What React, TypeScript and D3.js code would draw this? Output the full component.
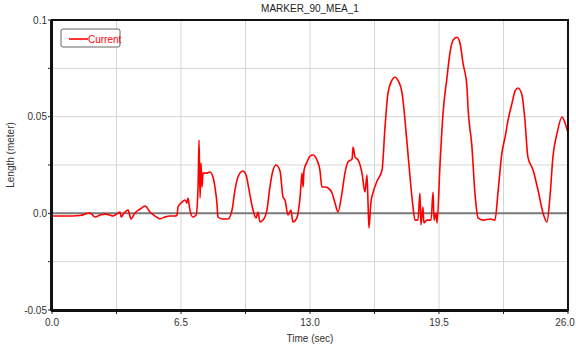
import { useEffect, useRef } from 'react';
import * as d3 from 'd3';

// Sampled trace of MARKER_90_MEA_1 (time in sec, length in meter)
const timeSec = [
  0.0, 0.66, 1.41, 1.91, 2.17, 2.42, 2.67, 2.92, 3.07, 3.22, 3.43, 3.48, 3.63, 3.83, 3.98,
  4.18, 4.43, 4.69, 4.94, 5.19, 5.44, 5.69, 5.95, 6.2, 6.3, 6.35, 6.55, 6.7, 6.8, 6.85,
  6.95, 7.1, 7.26, 7.36, 7.41, 7.46, 7.51, 7.56, 7.61, 7.81, 7.96, 8.11, 8.21, 8.31, 8.36,
  8.57, 8.87, 9.07, 9.22, 9.37, 9.62, 9.78, 9.93, 10.13, 10.28, 10.38, 10.48, 10.63, 10.83, 10.98,
  11.14, 11.29, 11.49, 11.64, 11.74, 11.89, 12.04, 12.14, 12.34, 12.5, 12.6, 12.65, 12.7, 12.85, 13.0,
  13.15, 13.35, 13.5, 13.6, 13.76, 13.91, 14.11, 14.26, 14.41, 14.61, 14.76, 14.91, 15.12, 15.17, 15.27,
  15.42, 15.62, 15.77, 15.87, 15.92, 15.97, 16.07, 16.17, 16.38, 16.63, 16.78, 16.93, 17.13, 17.28, 17.43,
  17.64, 17.89, 18.04, 18.19, 18.29, 18.44, 18.54, 18.59, 18.69, 18.74, 18.89, 19.1, 19.2, 19.25, 19.35,
  19.4, 19.55, 19.7, 19.9, 20.05, 20.21, 20.41, 20.56, 20.71, 20.91, 20.96, 21.16, 21.31, 21.47, 21.72,
  22.07, 22.32, 22.47, 22.67, 22.83, 22.98, 23.18, 23.33, 23.48, 23.68, 23.83, 23.98, 24.24, 24.49, 24.74,
  24.94, 25.09, 25.24, 25.45, 25.7, 25.85, 26.0,
];

const lengthM = [
  -0.0014, -0.0014, -0.0011, 0.0002, -0.0019, -0.0009, -0.0004, -0.0009, -0.0014, -0.0006, 0.0007, -0.0019, 0.0002, 0.0017, -0.0029,
  0.0002, 0.0021, 0.0038, 0.0007, -0.0014, -0.0029, -0.0019, -0.0014, -0.0014, -0.0009, 0.0033, 0.0058, 0.0069, 0.0053, 0.0079,
  0.0017, -0.0019, -0.0009, 0.0136, 0.0379, 0.0079, 0.026, 0.0136, 0.0208, 0.0208, 0.0214, 0.0188, 0.0136, 0.0053, -0.0019,
  -0.0029, -0.0029, 0.0017, 0.012, 0.0188, 0.0219, 0.0198, 0.012, 0.0017, -0.0024, 0.0007, -0.0045, -0.0035, 0.0017, 0.0136,
  0.0224, 0.025, 0.0219, 0.0084, 0.0069, -0.0009, 0.0017, -0.0045, -0.0024, 0.0084, 0.0208, 0.0136, 0.0224, 0.0265, 0.0296,
  0.0302, 0.0276, 0.0224, 0.0136, 0.0136, 0.0131, 0.0105, 0.0053, 0.0007, 0.0105, 0.0208, 0.0265, 0.0281, 0.0343, 0.0291,
  0.0276, 0.0208, 0.011, 0.0198, 0.0069, -0.0076, 0.0058, 0.0105, 0.0167, 0.0224, 0.0446, 0.0622, 0.0689, 0.0705, 0.0689,
  0.0622, 0.0363, 0.0188, 0.0033, -0.0035, -0.0035, 0.0105, -0.006, 0.0033, -0.005, -0.0035, -0.0035, 0.011, -0.0035, 0.0002,
  -0.005, 0.025, 0.0513, 0.07, 0.0829, 0.0896, 0.0911, 0.088, 0.0777, 0.0653, 0.055, 0.0344, 0.0106, -0.0024, -0.0035,
  -0.0029, -0.0035, 0.0106, 0.0313, 0.0394, 0.0482, 0.057, 0.0632, 0.0648, 0.0612, 0.0482, 0.0291, 0.0224, 0.012, 0.0002,
  -0.0045, 0.0084, 0.0291, 0.0415, 0.0498, 0.0467, 0.0415,
];

const xTickLabels = ['0.0', '6.5', '13.0', '19.5', '26.0'];
const yTickLabels = ['0.1', '0.05', '0.0', '-0.05'];

export default function App() {
  const svgRef = useRef<SVGSVGElement>(null);

  useEffect(() => {
    document.body.style.margin = '0';
    if (!svgRef.current) return;

    const svg = d3.select(svgRef.current);
    svg.selectAll('*').remove();

    const width = 576;
    const height = 350;
    const margin = { top: 20, right: 8, bottom: 40, left: 52 };
    const w = width - margin.left - margin.right;
    const h = height - margin.top - margin.bottom;
    const font = 'Liberation Sans Narrow, Liberation Sans, Arial, sans-serif';

    const data = timeSec.map((t, i) => ({ t, v: lengthM[i] }));

    const x = d3.scaleLinear().domain([0, 26]).range([0, w]);
    const y = d3.scaleLinear().domain([-0.05, 0.1]).range([h, 0]);

    const g = svg.append('g')
      .attr('transform', `translate(${margin.left},${margin.top})`);

    // grid
    const xGrid = d3.range(0, 9).map(i => i * 3.25);
    const yGrid = d3.range(0, 7).map(i => -0.05 + i * 0.025);

    g.selectAll('.xgrid')
      .data(xGrid)
      .enter()
      .append('line')
      .attr('x1', d => x(d))
      .attr('x2', d => x(d))
      .attr('y1', 0)
      .attr('y2', h)
      .attr('stroke', '#d6d6d6')
      .attr('stroke-width', 1);

    g.selectAll('.ygrid')
      .data(yGrid)
      .enter()
      .append('line')
      .attr('x1', 0)
      .attr('x2', w)
      .attr('y1', d => y(d))
      .attr('y2', d => y(d))
      .attr('stroke', '#d6d6d6')
      .attr('stroke-width', 1);

    // zero line
    g.append('line')
      .attr('x1', 0)
      .attr('x2', w)
      .attr('y1', y(0))
      .attr('y2', y(0))
      .attr('stroke', '#7a7a7a')
      .attr('stroke-width', 2);

    // ticks
    g.selectAll('.ytick')
      .data(yGrid)
      .enter()
      .append('line')
      .attr('x1', -4)
      .attr('x2', 0)
      .attr('y1', d => y(d))
      .attr('y2', d => y(d))
      .attr('stroke', '#222');

    g.selectAll('.xtick')
      .data(xGrid)
      .enter()
      .append('line')
      .attr('x1', d => x(d))
      .attr('x2', d => x(d))
      .attr('y1', h)
      .attr('y2', h + 4)
      .attr('stroke', '#222');

    // series
    const line = d3.line<{ t: number; v: number }>()
      .x(d => x(d.t))
      .y(d => y(d.v))
      .curve(d3.curveMonotoneX);

    g.append('path')
      .datum(data)
      .attr('fill', 'none')
      .attr('stroke', '#ff0000')
      .attr('stroke-width', 1.6)
      .attr('stroke-linejoin', 'round')
      .attr('d', line);

    // frame
    g.append('rect')
      .attr('x', 0)
      .attr('y', 0)
      .attr('width', w)
      .attr('height', h)
      .attr('fill', 'none')
      .attr('stroke', '#111')
      .attr('stroke-width', 2);
    g.append('line')
      .attr('x1', -1).attr('x2', -1).attr('y1', 0).attr('y2', h + 1)
      .attr('stroke', '#111').attr('stroke-width', 2);
    g.append('line')
      .attr('x1', -1).attr('x2', w).attr('y1', h + 1).attr('y2', h + 1)
      .attr('stroke', '#111').attr('stroke-width', 2);

    // tick labels (last one pulled in so it stays inside the page)
    g.selectAll('.xlabel')
      .data(xTickLabels)
      .enter()
      .append('text')
      .attr('x', (d, i) => x(+d) - (i === xTickLabels.length - 1 ? 3 : 0))
      .attr('y', h + 16)
      .attr('text-anchor', 'middle')
      .attr('font-family', font)
      .attr('font-size', 10)
      .attr('fill', '#333')
      .text(d => d);

    g.selectAll('.ylabel')
      .data(yTickLabels)
      .enter()
      .append('text')
      .attr('x', -5)
      .attr('y', d => y(+d) + 3.5)
      .attr('text-anchor', 'end')
      .attr('font-family', font)
      .attr('font-size', 10)
      .attr('fill', '#333')
      .text(d => d);

    // titles
    svg.append('text')
      .attr('x', margin.left + w / 2)
      .attr('y', 12)
      .attr('text-anchor', 'middle')
      .attr('font-family', font)
      .attr('font-size', 10)
      .attr('fill', '#222')
      .text('MARKER_90_MEA_1');

    svg.append('text')
      .attr('x', margin.left + w / 2)
      .attr('y', 342)
      .attr('text-anchor', 'middle')
      .attr('font-family', font)
      .attr('font-size', 10)
      .attr('fill', '#333')
      .text('Time (sec)');

    svg.append('text')
      .attr('transform', `translate(14,${margin.top + h / 2 - 10}) rotate(-90)`)
      .attr('text-anchor', 'middle')
      .attr('font-family', font)
      .attr('font-size', 10)
      .attr('fill', '#333')
      .text('Length (meter)');

    // legend
    const lg = g.append('g').attr('transform', 'translate(9,9)');
    lg.append('rect')
      .attr('width', 59)
      .attr('height', 18)
      .attr('rx', 2)
      .attr('fill', '#fff')
      .attr('stroke', '#666')
      .attr('stroke-width', 1);
    lg.append('line')
      .attr('x1', 8)
      .attr('x2', 27)
      .attr('y1', 10)
      .attr('y2', 10)
      .attr('stroke', '#ff0000')
      .attr('stroke-width', 1.6);
    lg.append('text')
      .attr('x', 27)
      .attr('y', 13.5)
      .attr('font-family', font)
      .attr('font-size', 10)
      .attr('fill', '#ff0000')
      .text('Current');
  }, []);

  return <svg ref={svgRef} width={576} height={350} style={{ display: 'block' }} />;
}
